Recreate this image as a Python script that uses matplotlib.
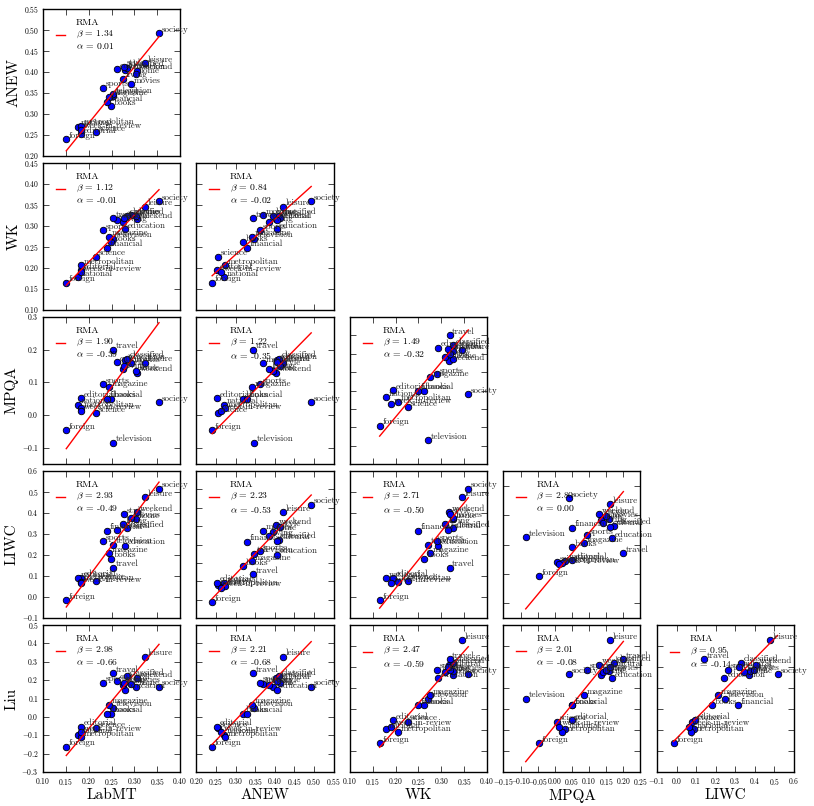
import numpy as np
import matplotlib
matplotlib.use('Agg')
import matplotlib.pyplot as plt
from matplotlib.ticker import MultipleLocator

plt.style.use('classic')
plt.rcParams['figure.facecolor'] = 'white'
plt.rcParams['font.family'] = 'cmr10'
plt.rcParams['mathtext.fontset'] = 'cm'
plt.rcParams['axes.formatter.use_mathtext'] = True

# section scores for each sentiment dictionary
sections = ['society', 'leisure', 'weekend', 'home', 'movies', 'education', 'classified',
            'living', 'style', 'cultural', 'travel', 'sports', 'television', 'magazine',
            'books', 'financial', 'science', 'editorial', 'national', 'metropolitan',
            'week-in-review', 'foreign']
labmt = [0.354, 0.323, 0.305, 0.303, 0.292, 0.280, 0.284, 0.276, 0.278, 0.262, 0.254,
         0.232, 0.254, 0.245, 0.248, 0.240, 0.215, 0.184, 0.177, 0.183, 0.183, 0.151]
anew = [0.493, 0.421, 0.403, 0.395, 0.371, 0.405, 0.410, 0.384, 0.413, 0.406, 0.344,
        0.363, 0.347, 0.341, 0.319, 0.328, 0.256, 0.252, 0.270, 0.272, 0.263, 0.240]
wk = [0.359, 0.346, 0.316, 0.325, 0.326, 0.293, 0.325, 0.309, 0.320, 0.315, 0.318,
      0.290, 0.270, 0.275, 0.262, 0.248, 0.227, 0.195, 0.178, 0.206, 0.190, 0.165]
mpqa = [0.040, 0.160, 0.130, 0.135, 0.158, 0.167, 0.173, 0.140, 0.150, 0.162, 0.200,
        0.095, -0.085, 0.086, 0.050, 0.050, 0.005, 0.051, 0.031, 0.020, 0.013, -0.046]
liwc = [0.516, 0.475, 0.405, 0.370, 0.375, 0.245, 0.327, 0.346, 0.395, 0.320, 0.140,
        0.265, 0.250, 0.210, 0.183, 0.315, 0.078, 0.092, 0.090, 0.072, 0.065, -0.015]
liu = [0.165, 0.328, 0.212, 0.164, 0.180, 0.147, 0.221, 0.176, 0.185, 0.198, 0.237,
       0.187, 0.050, 0.066, 0.018, 0.018, -0.061, -0.053, -0.097, -0.111, -0.085, -0.162]

names = ['LabMT', 'ANEW', 'WK', 'MPQA', 'LIWC', 'Liu']
data = [labmt, anew, wk, mpqa, liwc, liu]

# RMA fits shown in the legends (row = y dictionary, column = x dictionary)
beta_rows = [[1.34], [1.12, 0.84], [1.90, 1.22, 1.49], [2.93, 2.23, 2.71, 2.80],
             [2.98, 2.21, 2.47, 2.01, 0.95]]
alpha_rows = [[0.01], [-0.01, -0.02], [-0.39, -0.35, -0.32], [-0.49, -0.53, -0.50, 0.00],
              [-0.66, -0.68, -0.59, -0.08, -0.14]]

xlims = [(0.10, 0.40), (0.20, 0.55), (0.10, 0.40), (-0.15, 0.25), (-0.1, 0.6)]
xsteps = [0.05, 0.05, 0.05, 0.05, 0.1]
ylims = [[(0.20, 0.55)],
         [(0.10, 0.45), (0.10, 0.45)],
         [(-0.15, 0.30), (-0.15, 0.30), (-0.15, 0.25)],
         [(-0.1, 0.6), (-0.1, 0.7), (-0.1, 0.6), (-0.3, 0.7)],
         [(-0.3, 0.5), (-0.3, 0.5), (-0.3, 0.4), (-0.3, 0.4), (-0.3, 0.4)]]
ysteps = [[0.05], [0.05, 0.05], [0.1, 0.1, 0.05], [0.1, 0.1, 0.1, 0.2],
          [0.1, 0.1, 0.1, 0.1, 0.1]]

fig, axes = plt.subplots(5, 5, figsize=(8.14, 8.06), dpi=100)
fig.subplots_adjust(left=0.0528, right=0.9754, bottom=0.0422, top=0.9888,
                    wspace=0.12, hspace=0.048)

for r in range(5):
    for c in range(5):
        ax = axes[r][c]
        if c > r:
            ax.axis('off')
            continue
        x = np.array(data[c])
        y = np.array(data[r + 1])
        ax.scatter(x, y, s=22, c='b', edgecolors='k', linewidths=0.6, zorder=2)
        b = beta_rows[r][c]
        a = alpha_rows[r][c]
        xl = np.array([x.min(), x.max()])
        ax.plot(xl, b * xl + a, 'r-', lw=1.0, zorder=3,
                label='RMA\n$\\beta$ = %.2f\n$\\alpha$ = %.2f' % (b, a))
        for name, xi, yi in zip(sections, x, y):
            ax.annotate(name, (xi, yi), xytext=(2, 1), textcoords='offset points',
                        fontsize=6.5, va='baseline', color='#222222')
        ax.legend(loc='upper left', frameon=False, fontsize=7, handlelength=1.6,
                  handletextpad=0.8, borderaxespad=0.6)
        ax.set_xlim(xlims[c])
        ax.set_ylim(ylims[r][c])
        ax.xaxis.set_major_locator(MultipleLocator(xsteps[c]))
        ax.yaxis.set_major_locator(MultipleLocator(ysteps[r][c]))
        ax.tick_params(labelsize=5.5, pad=3)
        if c == 0:
            ax.set_ylabel(names[r + 1], fontsize=11, labelpad=2)
        else:
            ax.tick_params(labelleft=False)
        if r == 4:
            ax.set_xlabel(names[c], fontsize=11, labelpad=1)
        else:
            ax.tick_params(labelbottom=False)

fig.savefig('out.png', dpi=100)
